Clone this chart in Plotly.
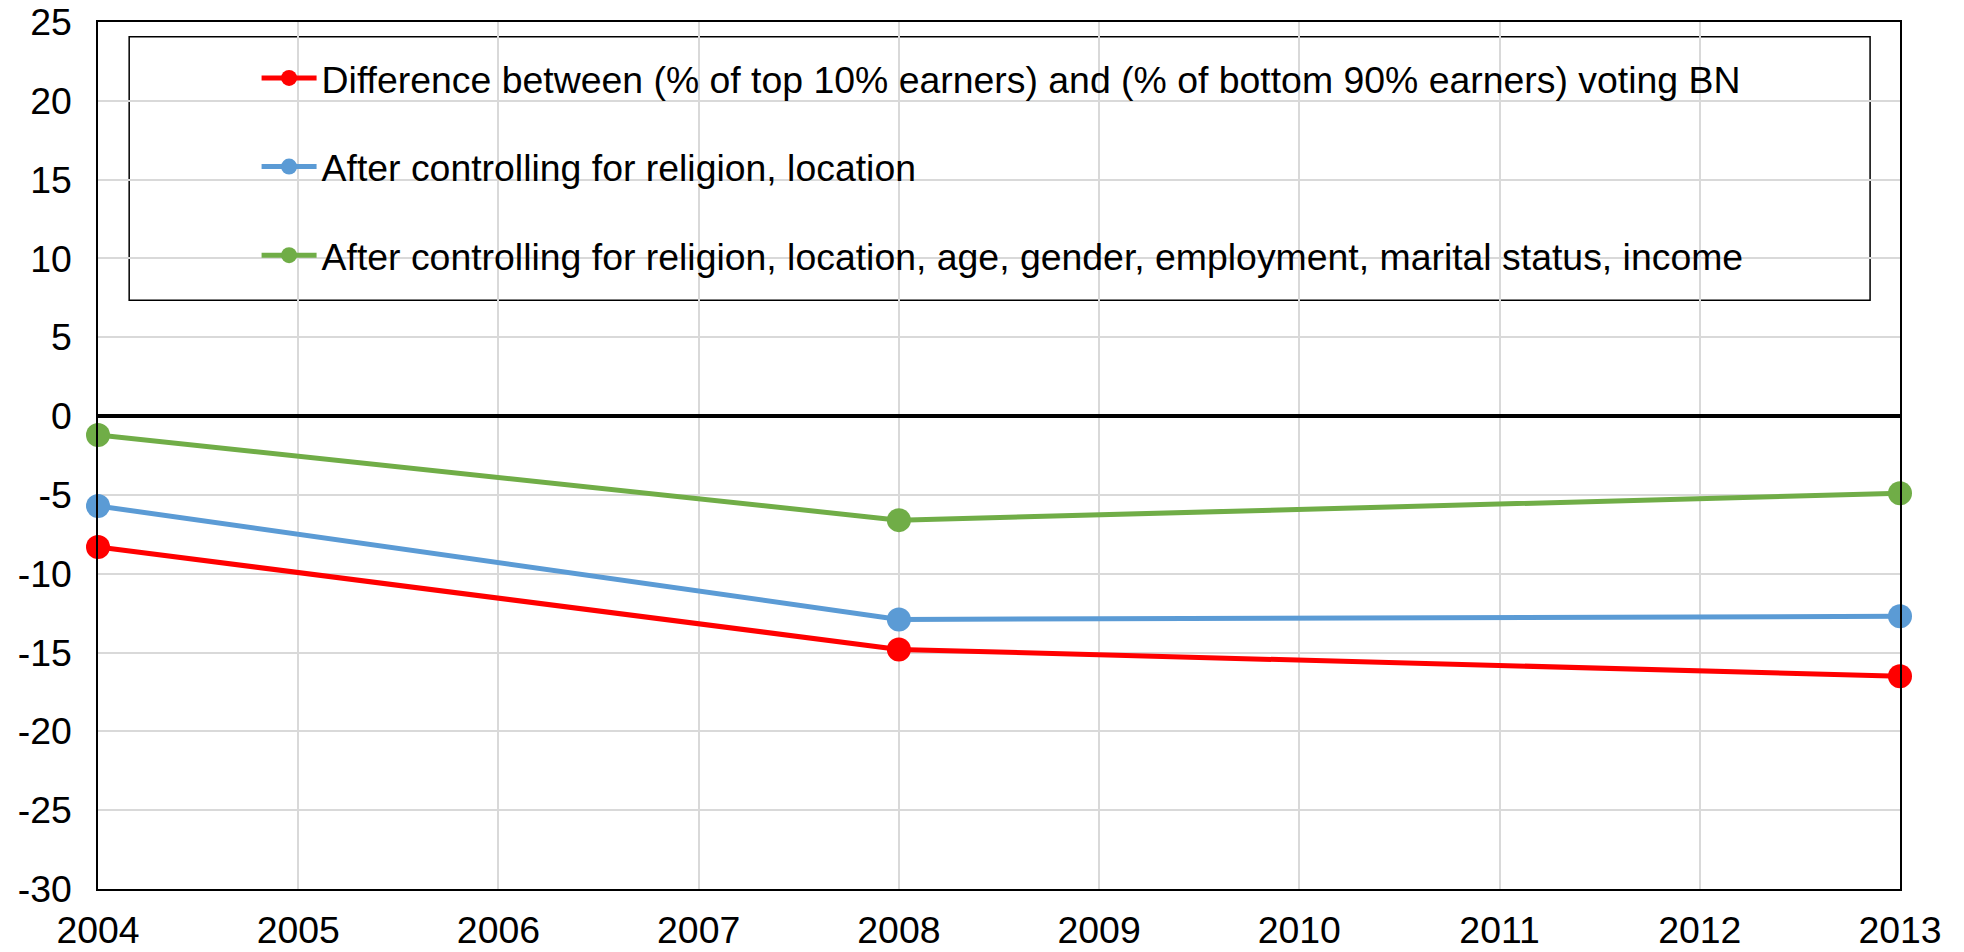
import plotly.graph_objects as go

years = [2004, 2008, 2013]
diff_raw = [-8.3, -14.8, -16.5]
ctrl_rel_loc = [-5.7, -12.9, -12.7]
ctrl_all = [-1.2, -6.6, -4.9]

names = [
    "Difference between (% of top 10% earners) and (% of bottom 90% earners) voting BN",
    "After controlling for religion, location",
    "After controlling for religion, location, age, gender, employment, marital status, income",
]
colors = ["#FF0000", "#5B9BD5", "#70AD47"]
series = [diff_raw, ctrl_rel_loc, ctrl_all]

x_ticks = list(range(2004, 2014))
y_ticks = list(range(-30, 30, 5))
y_ticktext = [str(v) for v in y_ticks]

FONT = "Arial, Liberation Sans, sans-serif"
FS = 37.4

fig = go.Figure()
for i, (nm, col, vals) in enumerate(zip(names, colors, series)):
    fig.add_trace(go.Scatter(
        x=years, y=vals, name=nm, mode="lines+markers",
        line=dict(color=col, width=5),
        marker=dict(color=col, size=24),
        legendgroup=f"g{i}",
        cliponaxis=False,
    ))

fig.add_shape(type="rect", xref="paper", yref="paper",
              x0=0.0173, x1=0.9834, y0=0.679, y1=0.983,
              line=dict(color="black", width=1.5), fillcolor="white",
              layer="between")

fig.update_layout(
    width=1956, height=944,
    margin=dict(l=89.5, r=64, t=14, b=63, autoexpand=False),
    paper_bgcolor="white", plot_bgcolor="white",
    font=dict(family=FONT, size=FS, color="black"),
    showlegend=True,
    legend=dict(
        x=0.088, y=0.971, xanchor="left", yanchor="top",
        bgcolor="rgba(0,0,0,0)", borderwidth=0,
        font=dict(family=FONT, size=FS, color="black"),
        tracegroupgap=37, itemwidth=55,
    ),
    xaxis=dict(
        range=[2004, 2013], tickvals=x_ticks, ticktext=[str(v) for v in x_ticks],
        showgrid=True, gridcolor="#D9D9D9", gridwidth=1.5,
        showline=True, linecolor="black", linewidth=1.5, mirror=True,
        ticks="", ticklen=0, zeroline=False, automargin=False,
        ticklabelstandoff=7, ticklabeloverflow="allow",
        tickfont=dict(family=FONT, size=FS, color="black"),
    ),
    yaxis=dict(
        range=[-30, 25], tickvals=y_ticks, ticktext=y_ticktext,
        showgrid=True, gridcolor="#D9D9D9", gridwidth=1.5,
        showline=True, linecolor="black", linewidth=1.5, mirror=True,
        zeroline=True, zerolinecolor="black", zerolinewidth=4,
        ticks="", ticklen=0, automargin=False,
        ticklabelstandoff=17, ticklabeloverflow="allow",
        tickfont=dict(family=FONT, size=FS, color="black"),
    ),
)

fig.write_html("out.html")
